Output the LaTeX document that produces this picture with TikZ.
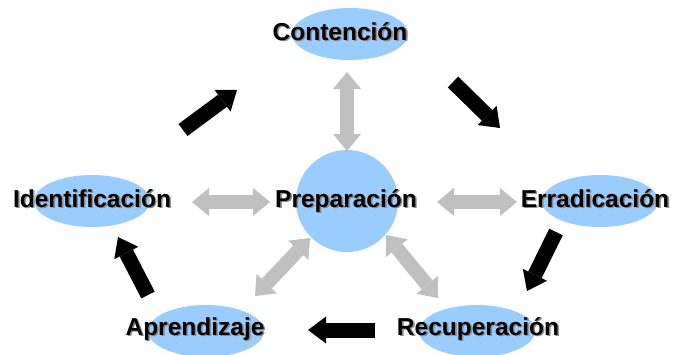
\documentclass[tikz,border=0pt]{standalone}
\usepackage{fontspec}
\setmainfont{Liberation Sans}
\usetikzlibrary{arrows.meta,calc,shapes.geometric}
\definecolor{ellblue}{HTML}{99CCFF}
\definecolor{arrgray}{HTML}{C0C0C0}
\definecolor{shdgray}{HTML}{8C8C8C}
\newcommand\shtxt[1]{\makebox[0pt][l]{\hspace{1.6pt}\raisebox{-1.6pt}{\textcolor{shdgray}{#1}}}#1}
\begin{document}
\begin{tikzpicture}[x=1pt,y=-1pt,
  ell/.style={ellipse,fill=ellblue,draw=none,minimum width=116pt,minimum height=52pt,inner sep=0pt},
  circ/.style={circle,fill=ellblue,draw=none,minimum size=102pt,inner sep=0pt},
  lbl/.style={font=\fontsize{24.5}{28}\selectfont\bfseries,anchor=base,inner sep=0pt},
  garrow/.style={arrgray,line width=14pt,{Triangle[width=28pt,length=17pt,line width=0pt]}-{Triangle[width=28pt,length=17pt,line width=0pt]}},
  barrow/.style={black,line width=15pt,-{Triangle[width=27pt,length=18pt,line width=0pt]}}]
\useasboundingbox (0,0) rectangle (673,354);
% shapes
\node[ell] (cont) at (350,34) {};
\node[ell] (iden) at (92,201) {};
\node[ell] (erra) at (600,201) {};
\node[circ] (prep) at (347,201) {};
\node[ell] (apre) at (206,331) {};
\node[ell] (recu) at (477,331) {};
% labels
\node[lbl] (contT) at (340,40) {\shtxt{Contención}};
\node[lbl] (idenT) at (92,207) {\shtxt{Identificación}};
\node[lbl] (erraT) at (595,207) {\shtxt{Erradicación}};
\node[lbl] (prepT) at (346,207) {\shtxt{Preparación}};
\node[lbl] (apreT) at (195,335) {\shtxt{Aprendizaje}};
\node[lbl] (recuT) at (478,335) {\shtxt{Recuperación}};
% arrow end points
\coordinate (g1a) at (347,72);  \coordinate (g1b) at (347,151);
\coordinate (g2a) at (192,202); \coordinate (g2b) at (270,202);
\coordinate (g3a) at (437,202); \coordinate (g3b) at (517,202);
\coordinate (g4a) at (255,296); \coordinate (g4b) at (310,238);
\coordinate (g5a) at (386,235); \coordinate (g5b) at (438,298);
\coordinate (b1a) at (183,130); \coordinate (b1b) at (237,90);
\coordinate (b2a) at (453,82);  \coordinate (b2b) at (500,128);
\coordinate (b3a) at (556,232); \coordinate (b3b) at (527,291);
\coordinate (b4a) at (375,330); \coordinate (b4b) at (308,330);
\coordinate (b5a) at (148,295); \coordinate (b5b) at (118,237);
% gray double arrows
\draw[garrow] (g1a) -- (g1b);
\draw[garrow] (g2a) -- (g2b);
\draw[garrow] (g3a) -- (g3b);
\draw[garrow] (g4a) -- (g4b);
\draw[garrow] (g5a) -- (g5b);
% black cycle arrows
\draw[barrow] (b1a) -- (b1b);
\draw[barrow] (b2a) -- (b2b);
\draw[barrow] (b3a) -- (b3b);
\draw[barrow] (b4a) -- (b4b);
\draw[barrow] (b5a) -- (b5b);
\end{tikzpicture}
\end{document}
